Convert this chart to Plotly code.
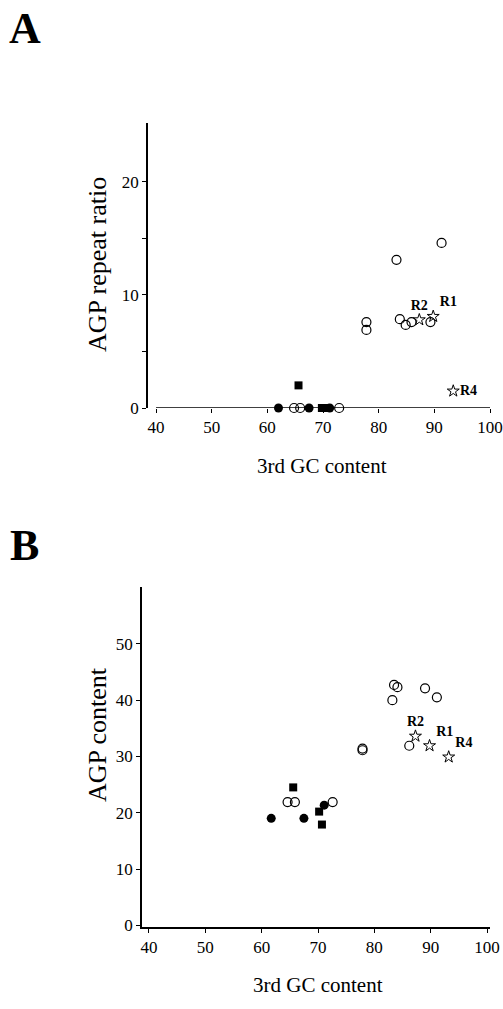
import plotly.graph_objects as go

# ---- Panel A data: 3rd GC content vs AGP repeat ratio ----
a_open_x = [77.8, 77.8, 83.2, 91.3, 83.8, 84.85, 85.9, 89.3, 64.8, 65.9, 72.9]
a_open_y = [7.6, 6.9, 13.1, 14.6, 7.85, 7.35, 7.6, 7.6, 0, 0, 0]
a_fcirc_x = [62.0, 67.5, 71.2]
a_fcirc_y = [0, 0, 0]
a_fsq_x = [65.6, 69.8, 70.8]
a_fsq_y = [2.0, 0, 0]
a_star_x = [87.3, 89.8, 93.4]
a_star_y = [7.8, 8.1, 1.5]
star_labels = ["R2", "R1", "R4"]

# ---- Panel B data: 3rd GC content vs AGP content ----
b_open_x = [83.5, 84.1, 83.2, 89.0, 91.1, 77.9, 77.9, 86.2, 64.6, 65.9, 72.6]
b_open_y = [42.7, 42.3, 40.0, 42.1, 40.5, 31.4, 31.1, 31.9, 21.9, 21.9, 21.9]
b_fcirc_x = [61.7, 67.5, 71.1]
b_fcirc_y = [19.0, 19.0, 21.35]
b_fsq_x = [65.6, 70.2, 70.7]
b_fsq_y = [24.5, 20.2, 17.9]
b_star_x = [87.3, 89.8, 93.2]
b_star_y = [33.6, 31.9, 29.9]

x_ticks = [40, 50, 60, 70, 80, 90, 100]

W, H = 503, 1009
SERIF = "Liberation Serif, Times New Roman, serif"

fig = go.Figure()

def add_panel(xa, ya, ox, oy, cx, cy, sx, sy, stx, sty, textpos):
    common = dict(xaxis=xa, yaxis=ya, mode="markers", cliponaxis=False, showlegend=False)
    fig.add_trace(go.Scatter(x=ox, y=oy, marker=dict(symbol="circle-open", size=9,
                  color="black", line=dict(width=1.2, color="black")), **common))
    fig.add_trace(go.Scatter(x=cx, y=cy, marker=dict(symbol="circle", size=9,
                  color="black"), **common))
    fig.add_trace(go.Scatter(x=sx, y=sy, marker=dict(symbol="square", size=8,
                  color="black"), **common))
    fig.add_trace(go.Scatter(x=stx, y=sty, xaxis=xa, yaxis=ya, mode="markers+text",
                  cliponaxis=False, showlegend=False,
                  text=["<b>%s</b>" % s for s in star_labels], textposition=textpos,
                  textfont=dict(family=SERIF, size=14, color="black"),
                  marker=dict(symbol="star-open", size=9, color="black",
                              line=dict(width=1, color="black"))))

add_panel("x", "y", a_open_x, a_open_y, a_fcirc_x, a_fcirc_y, a_fsq_x, a_fsq_y,
          a_star_x, a_star_y, ["top center", "top right", "middle right"])
add_panel("x2", "y2", b_open_x, b_open_y, b_fcirc_x, b_fcirc_y, b_fsq_x, b_fsq_y,
          b_star_x, b_star_y, ["top center", "top right", "top right"])

tickfont = dict(family=SERIF, size=17, color="black")
axis_common = dict(showgrid=False, zeroline=False, ticks="outside", ticklen=4,
                   tickwidth=1.2, tickcolor="black", tickfont=tickfont, fixedrange=True,
                   ticklabeloverflow="allow")

fig.update_layout(
    autosize=True,
    margin=dict(l=0, r=0, t=0, b=0, autoexpand=False),
    paper_bgcolor="white", plot_bgcolor="white",
    xaxis=dict(domain=[148 / W, 492 / W], range=[38.56, 100.36], tickvals=x_ticks,
               showline=False, anchor="y", **axis_common),
    yaxis=dict(domain=[1 - 408 / H, 1 - 123 / H], range=[0, 25.2],
               tickvals=[0, 5, 10, 15, 20], ticktext=["0", "", "10", "", "20"],
               showline=True, linecolor="black", linewidth=1.5, anchor="x", **axis_common),
    xaxis2=dict(domain=[142 / W, 490 / W], range=[38.76, 100.53], tickvals=x_ticks,
                showline=True, linecolor="black", linewidth=1.5, anchor="y2", **axis_common),
    yaxis2=dict(domain=[1 - 927 / H, 1 - 587 / H], range=[-0.3, 60.1],
                tickvals=[0, 10, 20, 30, 40, 50],
                showline=True, linecolor="black", linewidth=1.5, anchor="x2", **axis_common),
)

# x axis line of panel A from 40 to 100 at y = 0
fig.add_shape(type="line", xref="x", yref="y", x0=x_ticks[0], x1=x_ticks[-1], y0=0, y1=0,
              line=dict(color="black", width=1.5))

xtitle_font = dict(family=SERIF, size=21, color="black")
ytitle_font = dict(family=SERIF, size=26, color="black")
panel_font = dict(family=SERIF, size=44, color="black")
annots = [
    dict(text="<b>A</b>", x=25 / W, y=1 - 28 / H, font=panel_font),
    dict(text="<b>B</b>", x=24 / W, y=1 - 545 / H, font=panel_font),
    dict(text="3rd GC content", x=322 / W, y=1 - 466 / H, font=xtitle_font),
    dict(text="3rd GC content", x=318 / W, y=1 - 985 / H, font=xtitle_font),
    dict(text="AGP repeat ratio", x=97 / W, y=1 - 265 / H, font=ytitle_font, textangle=-90),
    dict(text="AGP content", x=97 / W, y=1 - 735 / H, font=ytitle_font, textangle=-90),
]
for a in annots:
    fig.add_annotation(xref="paper", yref="paper", showarrow=False,
                       xanchor="center", yanchor="middle", **a)

fig.write_html("out.html",
               default_width="100vw", default_height="100vh",
               config={"displayModeBar": False, "responsive": True},
               post_script="document.body.style.margin='0';"
                           "document.body.style.overflow='hidden';")
